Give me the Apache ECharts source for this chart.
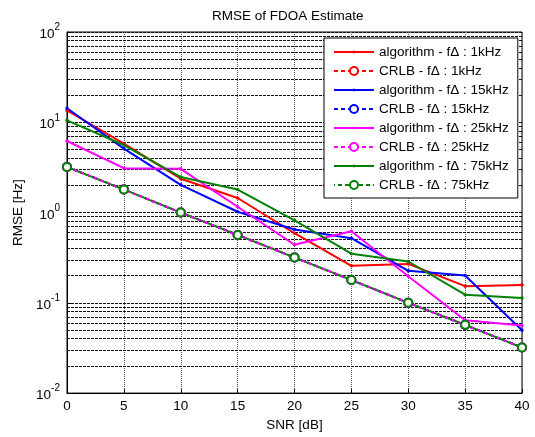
<!DOCTYPE html>
<html>
<head>
<meta charset="utf-8">
<script src="https://cdn.jsdelivr.net/npm/echarts@6/dist/echarts.min.js"></script>
<style>html,body{margin:0;padding:0;background:#fff;}#c{width:535px;height:437px;}</style>
</head>
<body>
<div id="c"></div>
<script>
const snr = [0, 5, 10, 15, 20, 25, 30, 35, 40];
const alg1k  = [13.5, 5.8, 2.37, 1.45, 0.59, 0.257, 0.27, 0.153, 0.158];
const alg15k = [14.3, 5.1, 2.03, 1.02, 0.65, 0.52, 0.226, 0.201, 0.0497];
const alg25k = [6.2, 3.1, 3.05, 1.16, 0.44, 0.62, 0.197, 0.064, 0.056];
const alg75k = [10.5, 5.6, 2.47, 1.80, 0.82, 0.35, 0.287, 0.123, 0.113];
const crlb1k  = [3.2, 1.8, 1.0, 0.565, 0.318, 0.179, 0.1, 0.057, 0.032];
const crlb15k = [3.2, 1.8, 1.0, 0.565, 0.318, 0.179, 0.1, 0.057, 0.032];
const crlb25k = [3.2, 1.8, 1.0, 0.565, 0.318, 0.179, 0.1, 0.057, 0.032];
const crlb75k = [3.2, 1.8, 1.0, 0.565, 0.318, 0.179, 0.1, 0.057, 0.032];
const names = [
  'algorithm - f\u0394 : 1kHz', 'CRLB - f\u0394 : 1kHz',
  'algorithm - f\u0394 : 15kHz', 'CRLB - f\u0394 : 15kHz',
  'algorithm - f\u0394 : 25kHz', 'CRLB - f\u0394 : 25kHz',
  'algorithm - f\u0394 : 75kHz', 'CRLB - f\u0394 : 75kHz'
];
const yTicks = [0.01, 0.1, 1, 10, 100];

const FONT = 'Liberation Sans, Arial, sans-serif';
const FS = 13.5;
// small dot centred in a 10x10 box (corner specks fix the box size)
const dotPath = 'path://M0 0L0.05 0L0.05 0.05ZM10 10L9.95 10L9.95 9.95ZM3.2 5L3.7 3.7L5 3.2L6.3 3.7L6.8 5L6.3 6.3L5 6.8L3.7 6.3Z';

const minorGrid = [];
for (let d = 0; d < yTicks.length - 1; d++) {
  for (let m = 2; m <= 9; m++) minorGrid.push(yTicks[d] * m);
}

function pairs(arr) { return snr.map((x, i) => [x, arr[i]]); }

function alg(name, data, color) {
  return {
    name, type: 'line', data: pairs(data), symbol: dotPath, symbolSize: 10,
    itemStyle: { color: color }, lineStyle: { color: color, width: 2 },
    z: 2, animation: false
  };
}
function crlb(name, data, color, offset) {
  return {
    name, type: 'line', data: pairs(data), symbol: 'emptyCircle', symbolSize: 8,
    itemStyle: { color: color, borderWidth: 2, borderColor: color },
    lineStyle: { color: color, width: 2, type: [4, 3], dashOffset: offset || 0 },
    z: 2, animation: false
  };
}

const series = [
  alg(names[0], alg1k, '#ff0000'),
  crlb(names[1], crlb1k, '#ff0000'),
  alg(names[2], alg15k, '#0000ff'),
  crlb(names[3], crlb15k, '#0000ff'),
  alg(names[4], alg25k, '#ff00ff'),
  crlb(names[5], crlb25k, '#ff00ff'),
  alg(names[6], alg75k, '#008000'),
  crlb(names[7], crlb75k, '#008000', 3)
];
series[0].markLine = {
  silent: true, symbol: 'none', label: { show: false }, animation: false, z: 1,
  lineStyle: { color: '#111', width: 1, type: [3, 1] },
  data: minorGrid.map(v => ({ yAxis: v }))
};

const chart = echarts.init(document.getElementById('c'), null, { renderer: 'canvas' });
chart.setOption({
  animation: false,
  backgroundColor: '#fff',
  textStyle: { fontFamily: FONT },
  title: {
    text: 'RMSE of FDOA Estimate', left: 207, top: 4,
    textStyle: { fontSize: FS, fontWeight: 'normal', color: '#000', fontFamily: FONT }
  },
  grid: { left: 67, right: 13, top: 32, bottom: 41, show: true, borderColor: '#000', borderWidth: 1, backgroundColor: '#fff' },
  legend: {
    orient: 'vertical', left: 324, top: 38, z: 20,
    itemWidth: 40, itemHeight: 10, itemGap: 5, itemTextGap: 6, padding: [7, 9, 6, 9],
    backgroundColor: '#fff', borderColor: '#000', borderWidth: 1,
    textStyle: { fontSize: FS, color: '#000', fontFamily: FONT },
    data: names
  },
  xAxis: {
    type: 'value', min: 0, max: 40, interval: 5,
    name: 'SNR [dB]', nameLocation: 'middle', nameGap: 16,
    nameTextStyle: { fontSize: FS, color: '#000', fontFamily: FONT },
    axisLine: { show: true, lineStyle: { color: '#000', width: 1 } },
    axisTick: { show: true, inside: true, length: 4, lineStyle: { color: '#000' } },
    axisLabel: { fontSize: FS, color: '#000', margin: 6, fontFamily: FONT },
    splitLine: { show: true, lineStyle: { color: '#555', width: 1, type: [1, 1] } }
  },
  yAxis: {
    type: 'log', logBase: 10, min: 0.01, max: 100,
    name: 'RMSE [Hz]', nameLocation: 'middle', nameGap: 31,
    nameTextStyle: { fontSize: FS, color: '#000', fontFamily: FONT },
    axisLine: { show: true, lineStyle: { color: '#000', width: 1 } },
    axisTick: { show: true, inside: true, length: 4, lineStyle: { color: '#000' } },
    axisLabel: {
      margin: 7, color: '#000',
      formatter: function (v) {
        const e = Math.round(Math.log10(v));
        return '{b|10}{s|' + e + '}';
      },
      rich: {
        b: { fontSize: FS, color: '#000', fontFamily: FONT, padding: [5, 0, 0, 0] },
        s: { fontSize: 10, color: '#000', fontFamily: FONT, verticalAlign: 'top' }
      }
    },
    splitLine: { show: true, lineStyle: { color: '#111', width: 1, type: [3, 1] } }
  },
  series: series
});
</script>
</body>
</html>
